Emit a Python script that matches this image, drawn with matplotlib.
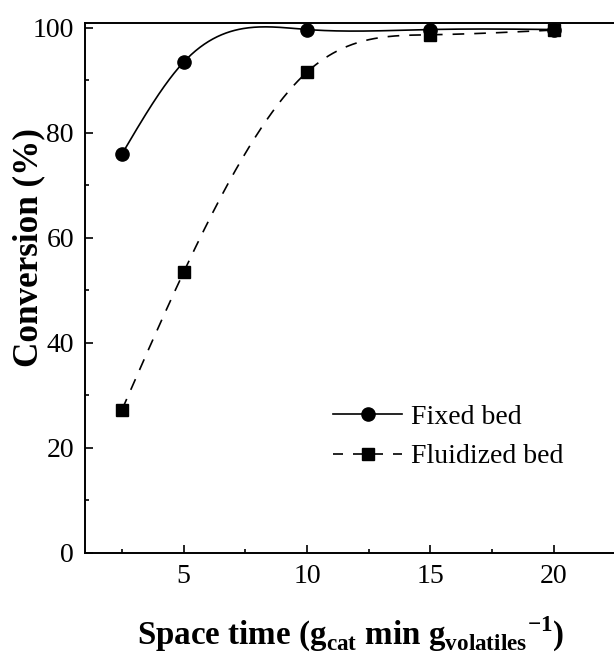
import numpy as np
import matplotlib
matplotlib.use("Agg")
import matplotlib.pyplot as plt
from matplotlib.ticker import MultipleLocator

space_time = [2.5, 5, 10, 15, 20]
fixed_bed = [76.0, 93.5, 99.7, 99.7, 99.7]
fluidized_bed = [27.3, 53.5, 91.6, 98.7, 99.6]
series_labels = ["Fixed bed", "Fluidized bed"]
x_ticks = [5, 10, 15, 20]
x_title = r'Space time (g$_{\mathbf{cat}}$ min g$_{\mathbf{volatiles}}$$^{\mathbf{-1}}$)'
y_title = 'Conversion (%)'


def natural_spline(x, y, n=400):
    x = np.asarray(x, float)
    y = np.asarray(y, float)
    k = len(x)
    h = np.diff(x)
    A = np.zeros((k, k))
    r = np.zeros(k)
    A[0, 0] = A[-1, -1] = 1
    for i in range(1, k - 1):
        A[i, i - 1] = h[i - 1]
        A[i, i] = 2 * (h[i - 1] + h[i])
        A[i, i + 1] = h[i]
        r[i] = 6 * ((y[i + 1] - y[i]) / h[i] - (y[i] - y[i - 1]) / h[i - 1])
    M = np.linalg.solve(A, r)
    xs = np.linspace(x[0], x[-1], n)
    ys = np.empty_like(xs)
    for j, xv in enumerate(xs):
        i = int(np.clip(np.searchsorted(x, xv) - 1, 0, k - 2))
        t1 = x[i + 1] - xv
        t0 = xv - x[i]
        ys[j] = (M[i] * t1 ** 3 + M[i + 1] * t0 ** 3) / (6 * h[i]) \
            + (y[i] / h[i] - M[i] * h[i] / 6) * t1 \
            + (y[i + 1] / h[i] - M[i + 1] * h[i] / 6) * t0
    return xs, ys


plt.rcParams['font.family'] = ['Liberation Serif', 'DejaVu Serif']
plt.rcParams['mathtext.fontset'] = 'custom'
plt.rcParams['mathtext.rm'] = 'Liberation Serif'
plt.rcParams['mathtext.bf'] = 'Liberation Serif:bold'

W, H = 614, 658
fig = plt.figure(figsize=(W / 100, H / 100), dpi=100)
ax = fig.add_axes([85 / W, (H - 553) / H, 1 - 85 / W, (553 - 22.7) / H])

xs, ys = natural_spline(space_time, fixed_bed)
ax.plot(xs, ys, color='black', lw=1.2, ls='-')
ax.plot(space_time, fixed_bed, ls='none', marker='o', ms=9.5, color='black')
xs2, ys2 = natural_spline(space_time, fluidized_bed)
ax.plot(xs2, ys2, color='black', lw=1.2, ls=(0, (7, 6)))
ax.plot(space_time, fluidized_bed, ls='none', marker='s', ms=8.5, color='black')

h1, = ax.plot([], [], color='black', lw=1.2, marker='o', ms=9.5)
h2, = ax.plot([], [], color='black', lw=1.2, ls=(0, (6, 6)), marker='s', ms=8.5)
leg = ax.legend([h1, h2], series_labels, loc='center left',
                bbox_to_anchor=(333 / W, (H - 437) / H),
                bbox_transform=fig.transFigure,
                frameon=False, fontsize=20, handlelength=2.5,
                handletextpad=0.3, labelspacing=0.5, borderpad=0,
                borderaxespad=0)

ax.set_xlim(1.0, 22.44)
ax.set_ylim(0, 101)
ax.set_xticks(x_ticks)
ax.xaxis.set_minor_locator(MultipleLocator(2.5))
ax.yaxis.set_major_locator(MultipleLocator(20))
ax.yaxis.set_minor_locator(MultipleLocator(10))
ax.tick_params(which='both', direction='in', labelsize=20, width=1.2)
ax.tick_params(which='major', length=6)
ax.tick_params(which='minor', length=3)
ax.tick_params(axis='x', pad=8)
ax.tick_params(axis='y', pad=8)
ax.spines['right'].set_visible(False)
for s in ['left', 'bottom', 'top']:
    ax.spines[s].set_linewidth(1.4)

tx = fig.text(351 / W, (H - 645) / H, x_title, fontsize=24, fontweight='bold',
              ha='center', va='baseline')
ty = fig.text(37 / W, (H - 248) / H, y_title, fontsize=24, fontweight='bold',
              ha='center', va='baseline', rotation=90, rotation_mode='anchor')

# fit label sizes to the reference lengths
fig.canvas.draw()
r = fig.canvas.get_renderer()
for t, target, horiz in [(tx, 428, True), (ty, 239, False)]:
    bb = t.get_window_extent(r)
    cur = bb.width if horiz else bb.height
    t.set_fontsize(t.get_fontsize() * target / cur)

fig.savefig('out.png', dpi=100)
